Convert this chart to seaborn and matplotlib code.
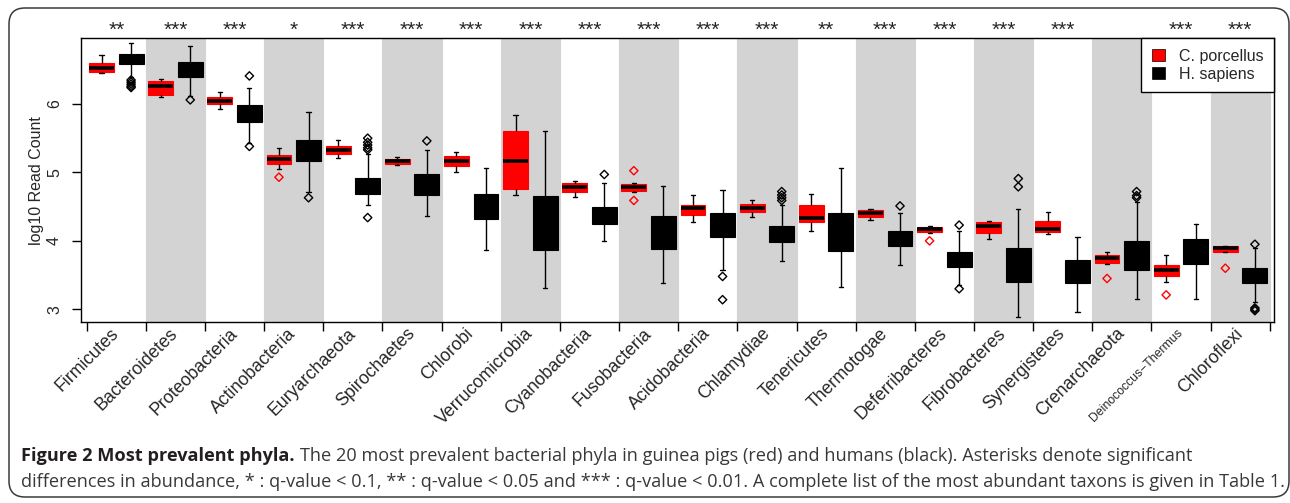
import numpy as np
import pandas as pd
import matplotlib
matplotlib.use("Agg")
import matplotlib.pyplot as plt
import seaborn as sns
from matplotlib.patches import Patch, FancyBboxPatch
from matplotlib.transforms import blended_transform_factory
from matplotlib.ticker import FixedLocator, NullFormatter

# ---------------- data ----------------
phyla = ["Firmicutes", "Bacteroidetes", "Proteobacteria", "Actinobacteria",
         "Euryarchaeota", "Spirochaetes", "Chlorobi", "Verrucomicrobia",
         "Cyanobacteria", "Fusobacteria", "Acidobacteria", "Chlamydiae",
         "Tenericutes", "Thermotogae", "Deferribacteres", "Fibrobacteres",
         "Synergistetes", "Crenarchaeota", "Deinococcus\u2212Thermus", "Chloroflexi"]
species = ["C. porcellus", "H. sapiens"]
colors = ["#FF0000", "#000000"]
significance = ["**", "***", "***", "*", "***", "***", "***", "***", "***", "***",
                "***", "***", "**", "***", "***", "***", "***", "", "***", "***"]

# C. porcellus box statistics
cp_whislo = [6.45, 6.10, 5.93, 5.05, 5.21, 5.11, 5.01, 4.67, 4.64, 4.72,
             4.27, 4.35, 4.14, 4.31, 4.12, 4.02, 4.10, 3.66, 3.40, 3.83]
cp_q1     = [6.46, 6.13, 6.00, 5.12, 5.27, 5.13, 5.10, 4.76, 4.72, 4.73,
             4.38, 4.42, 4.28, 4.35, 4.13, 4.12, 4.13, 3.68, 3.49, 3.84]
cp_median = [6.52, 6.27, 6.05, 5.20, 5.33, 5.16, 5.16, 5.16, 4.78, 4.79,
             4.48, 4.48, 4.33, 4.40, 4.17, 4.22, 4.18, 3.75, 3.57, 3.90]
cp_q3     = [6.60, 6.33, 6.10, 5.25, 5.39, 5.19, 5.24, 5.60, 4.84, 4.83,
             4.53, 4.54, 4.52, 4.45, 4.20, 4.28, 4.29, 3.79, 3.65, 3.92]
cp_whishi = [6.71, 6.37, 6.17, 5.35, 5.48, 5.22, 5.30, 5.84, 4.88, 4.85,
             4.67, 4.60, 4.68, 4.46, 4.21, 4.29, 4.42, 3.83, 3.80, 3.93]
cp_outliers = [[], [], [], [4.93], [], [], [], [], [], [5.025, 4.59],
               [], [], [], [], [4.00], [], [], [3.45], [3.21], [3.60]]

# H. sapiens box statistics
hs_whislo = [6.39, 6.12, 5.43, 4.72, 4.52, 4.36, 3.86, 3.31, 4.00, 3.38,
             3.57, 3.70, 3.32, 3.65, 3.35, 2.89, 2.96, 3.15, 3.15, 3.11]
hs_q1     = [6.59, 6.39, 5.74, 5.17, 4.68, 4.67, 4.32, 3.86, 4.25, 3.88,
             4.06, 3.98, 3.85, 3.92, 3.62, 3.40, 3.39, 3.57, 3.66, 3.38]
hs_median = [6.66, 6.49, 5.87, 5.34, 4.81, 4.86, 4.50, 4.08, 4.37, 4.12,
             4.27, 4.08, 4.12, 4.04, 3.74, 3.62, 3.55, 3.79, 3.84, 3.49]
hs_q3     = [6.73, 6.61, 5.99, 5.48, 4.92, 4.98, 4.69, 4.66, 4.50, 4.36,
             4.41, 4.22, 4.40, 4.14, 3.84, 3.89, 3.72, 4.00, 4.02, 3.61]
hs_whishi = [6.89, 6.84, 6.24, 5.88, 5.27, 5.33, 5.07, 5.60, 4.84, 4.80,
             4.74, 4.52, 5.07, 4.40, 4.14, 4.47, 4.06, 4.57, 4.24, 3.89]
hs_outliers = [[6.35, 6.32, 6.29, 6.26, 6.24], [6.06], [6.41, 5.38], [4.63],
               [5.50, 5.44, 5.40, 5.36, 5.33, 4.34], [5.46], [], [], [4.97], [],
               [3.48, 3.14], [4.72, 4.67, 4.63, 4.59], [], [4.51], [4.23, 3.30],
               [4.91, 4.79], [], [4.72, 4.66, 4.63], [], [3.95, 3.02, 3.00, 2.98]]

caption_bold = "Figure 2 Most prevalent phyla."
caption_rest1 = ("The 20 most prevalent bacterial phyla in guinea pigs (red) and humans (black). "
                 "Asterisks denote significant")
caption_line2 = ("differences in abundance, * : q-value < 0.1, ** : q-value < 0.05 and "
                 "*** : q-value < 0.01. A complete list of the most abundant taxons is given in Table 1.")

# ---------------- tables for seaborn ----------------
rows = []
stats = [(species[0], cp_whislo, cp_q1, cp_median, cp_q3, cp_whishi),
         (species[1], hs_whislo, hs_q1, hs_median, hs_q3, hs_whishi)]
for sp, lo, q1, md, q3, hi in stats:
    for i, ph in enumerate(phyla):
        for v in (lo[i], q1[i], md[i], q3[i], hi[i]):
            rows.append((ph, sp, v))
df = pd.DataFrame(rows, columns=["phylum", "species", "value"])

box_width = 1.0
out_rows = []
for j, (sp, outl) in enumerate(zip(species, [cp_outliers, hs_outliers])):
    offset = (j - 0.5) * box_width / 2
    for i, vals in enumerate(outl):
        for v in vals:
            out_rows.append((i + offset, sp, v))
odf = pd.DataFrame(out_rows, columns=["xpos", "species", "value"])

# ---------------- plotting ----------------
sns.set_style("ticks")
plt.rcParams["font.family"] = ["Liberation Sans", "DejaVu Sans"]
plt.rcParams["axes.edgecolor"] = "black"
plt.rcParams["axes.linewidth"] = 1.0

fig = plt.figure(figsize=(12.9, 5.03), dpi=100)
ax = fig.add_axes([0.0626, 0.3598, 0.9250, 0.5641])

n = len(phyla)
for k in range(1, n, 2):
    ax.axvspan(k - 0.5, k + 0.5, color="#D3D3D3", lw=0, zorder=0)

palette = dict(zip(species, colors))
sns.boxplot(data=df, x="phylum", y="value", hue="species", order=phyla,
            hue_order=species, palette=palette, width=box_width, gap=0.16,
            whis=(0, 100), linecolor="black", linewidth=1.0, saturation=1,
            dodge=True, legend=False, ax=ax,
            medianprops=dict(linewidth=2.6, color="black"),
            capwidths=0.07)

for p in ax.patches:
    p.set_edgecolor(p.get_facecolor())
    p.set_linewidth(0.8)

sns.scatterplot(data=odf, x="xpos", y="value", hue="species", hue_order=species,
                palette=palette, marker="D", s=18, linewidth=1.0, legend=False,
                ax=ax, zorder=4)
coll = ax.collections[-1]
fc = coll.get_facecolors()
coll.set_edgecolors(fc)
coll.set_facecolors("none")

ax.set_xlim(-0.601, n - 0.5 + 0.073)
ax.set_ylim(2.814, 6.96)
ax.xaxis.set_major_locator(FixedLocator(np.arange(n + 1) - 0.5))
ax.xaxis.set_major_formatter(NullFormatter())
ax.set_xticks(np.arange(n), labels=phyla, minor=True)
ax.tick_params(axis="x", which="major", length=6.5, width=1.0, direction="out", color="black")
ax.tick_params(axis="x", which="minor", length=0, pad=6.5, labelsize=12.8)
for lab in ax.get_xticklabels(minor=True):
    lab.set_rotation(45)
    lab.set_ha("right")
    lab.set_va("center")
    lab.set_rotation_mode("anchor")
    if lab.get_text().startswith("Deinococcus"):
        lab.set_fontsize(8.8)
ax.set_xlabel("")

ax.set_yticks([3, 4, 5, 6])
ax.tick_params(axis="y", length=6.5, width=1.0, pad=7, labelsize=11.5, color="black")
for lab in ax.get_yticklabels():
    lab.set_rotation(90)
    lab.set_va("center")
    lab.set_ha("right")
ax.set_ylabel("log10 Read Count", fontsize=11.5, va="center")
ax.yaxis.set_label_coords(-0.0375, 0.5)

for sp in ax.spines.values():
    sp.set_visible(True)
    sp.set_color("black")
    sp.set_linewidth(1.0)

trans = blended_transform_factory(ax.transData, ax.transAxes)
for i, s in enumerate(significance):
    if s:
        ax.text(i, 1.028, s, transform=trans, ha="center", va="center", fontsize=15)

handles = [Patch(facecolor=c, edgecolor="black", linewidth=0.5, label=s)
           for s, c in zip(species, colors)]
leg = ax.legend(handles=handles, loc="upper right", borderaxespad=0, fancybox=False,
                framealpha=1, edgecolor="black", fontsize=11.5, handlelength=0.8,
                handleheight=0.8, handletextpad=0.9, borderpad=0.65, labelspacing=0.2)
leg.get_frame().set_linewidth(1.0)
leg.set_zorder(10)

# outer rounded frame
frame = FancyBboxPatch((0.09, 0.06), 12.80, 4.89,
                       boxstyle="round,pad=0,rounding_size=0.16",
                       transform=fig.dpi_scale_trans, fill=False,
                       edgecolor="#3a3a3a", linewidth=1.1)
fig.add_artist(frame)

# caption
cap_family = ["Open Sans", "DejaVu Sans"]
cap_color = "#383838"
x0 = 21 / 1290
t2 = fig.text(x0, 1 - 482 / 503, caption_line2, fontsize=12, family=cap_family,
              color=cap_color, ha="left", va="center")
fig.canvas.draw()
w = t2.get_window_extent().width
cap_fs = 12 * (1254 / w)
t2.set_fontsize(cap_fs)
t1a = fig.text(x0, 1 - 456 / 503, caption_bold, fontsize=cap_fs, family=cap_family,
               weight="bold", color="#231f20", ha="left", va="center")
fig.canvas.draw()
bb = t1a.get_window_extent()
fig.text((bb.x1 + 0.28 * cap_fs * 100 / 72) / 1290, 1 - 456 / 503, caption_rest1,
         fontsize=cap_fs, family=cap_family, color=cap_color, ha="left", va="center")

fig.savefig("out.png", dpi=100)
